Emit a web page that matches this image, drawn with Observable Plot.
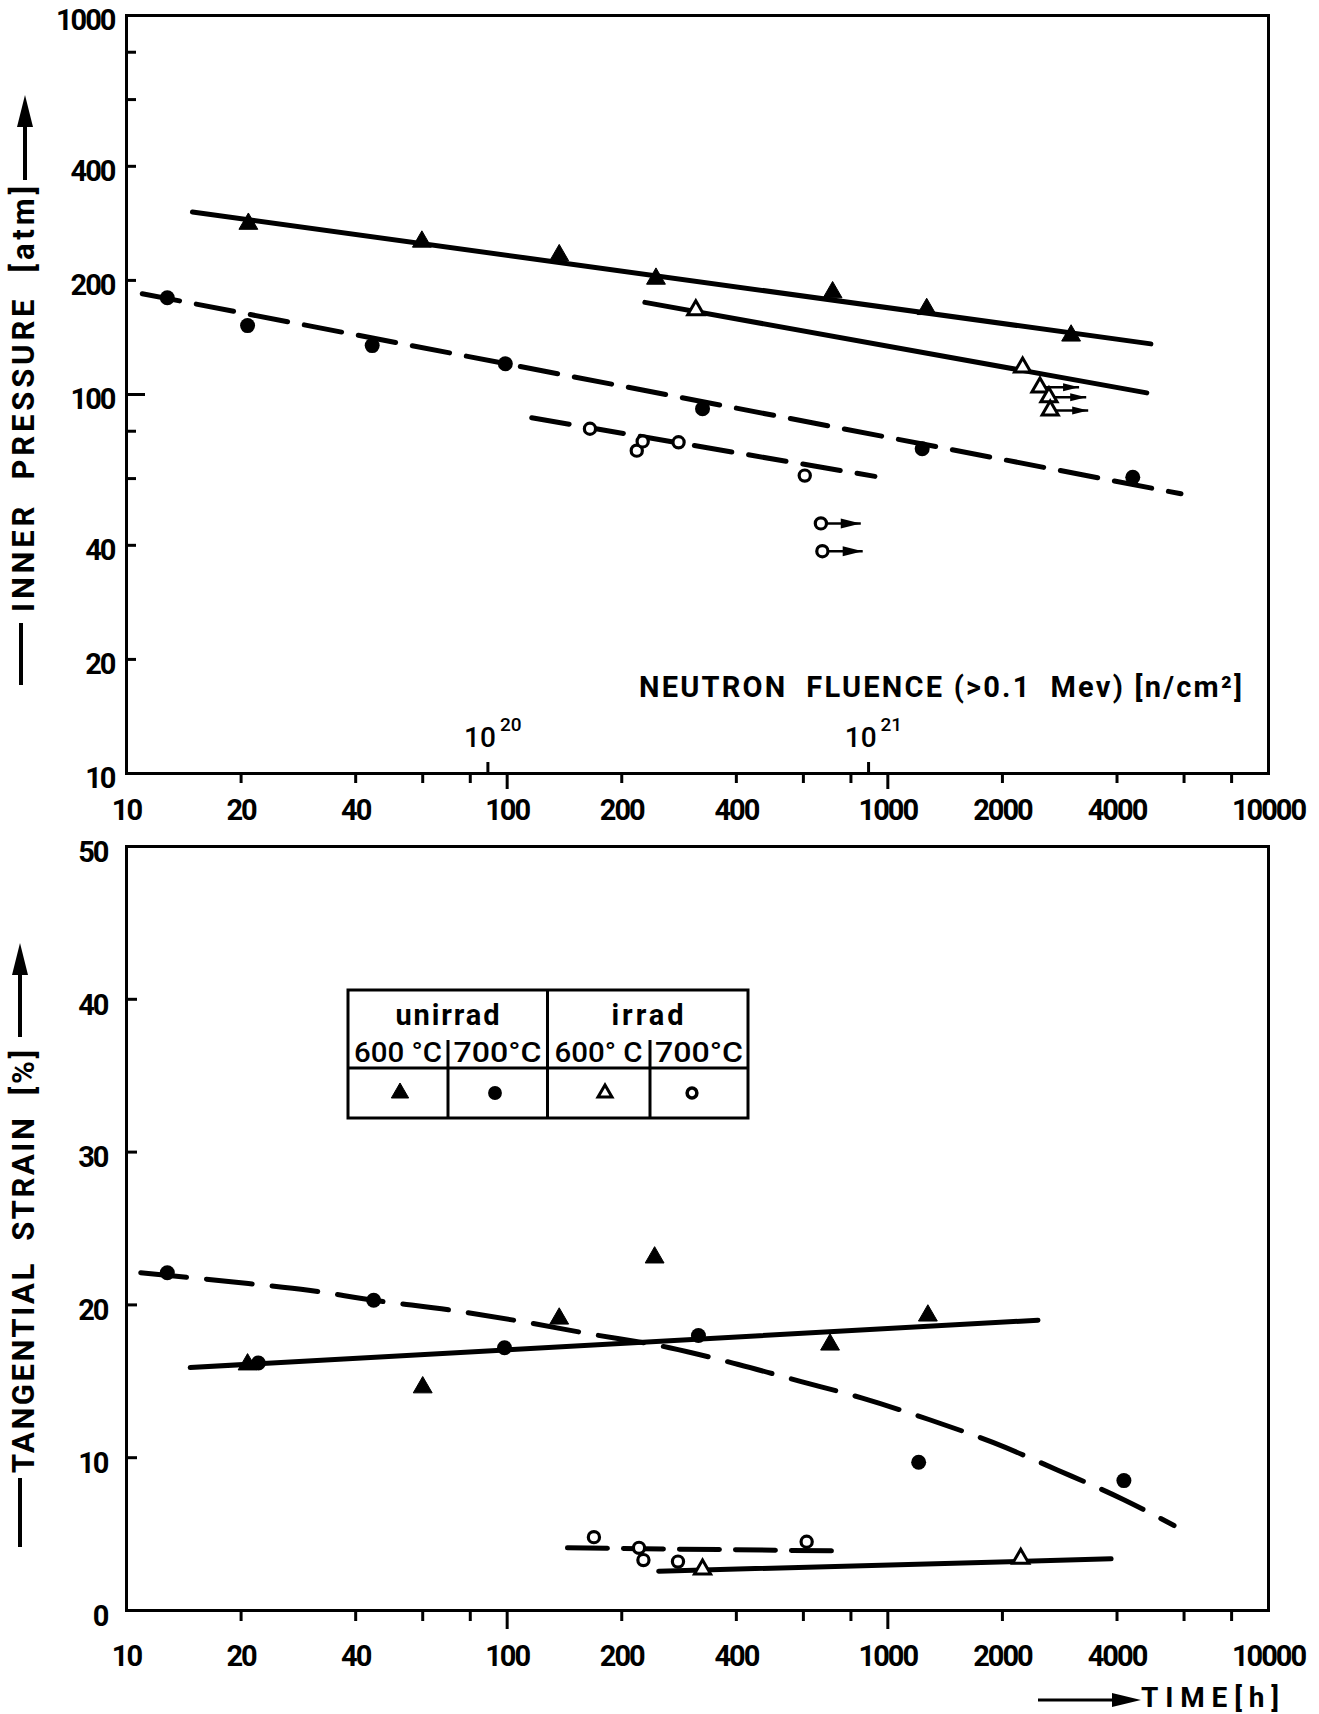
<!DOCTYPE html>
<html>
<head>
<meta charset="utf-8">
<script src="https://cdn.jsdelivr.net/npm/d3@7"></script>
<script src="https://cdn.jsdelivr.net/npm/@observablehq/plot@0.6"></script>
<style>
  html, body { margin: 0; padding: 0; background: #fff; }
  #page { position: relative; width: 1319px; height: 1714px; overflow: hidden; background: #fff; }
  #page > svg { position: absolute; left: 0; }
  #page svg text { white-space: pre; }
  #page g[aria-label$="tick label"] text { letter-spacing: -2px; }
</style>
</head>
<body>
<div id="page"></div>
<script>
// ---- Inner pressure at rupture [atm] vs. time to rupture [h] ----
const pU600Hours = [20.9, 59.7, 137, 246, 716, 1265, 3030];
const pU600Atm   = [282, 253, 233, 202, 186, 168, 143];
const pU700Hours = [12.8, 20.8, 44.2, 98.9, 326, 1231, 4400];
const pU700Atm   = [180, 152, 134.6, 120.5, 91.7, 71.9, 60.5];
const pI600Hours = [313, 2260, 2510, 2650, 2670];
const pI600Atm   = [167, 118, 104.5, 98.4, 90.8];
const pI600RunTo = [null, null, 3180, 3320, 3360];   // tests still running: arrow to
const pI700Hours = [165, 219, 227, 282, 605, 667, 673];
const pI700Atm   = [81.2, 71.1, 75.2, 74.8, 61.1, 45.7, 38.6];
const pI700RunTo = [null, null, null, null, null, 849, 859];

// trend lines (end points)
const fitPU600Hours = [14.9, 4910];  const fitPU600Atm = [303, 136];
const fitPI600Hours = [230, 4790];   const fitPI600Atm = [175, 101];
const fitPU700Hours = [11.0, 5890];  const fitPU700Atm = [184.5, 54.7];
const fitPI700Hours = [116, 925];    const fitPI700Atm = [86.8, 60.8];

// neutron fluence reached at a given irradiation time
const fluenceHours = [89, 890];
const fluenceExponents = ["20", "21"];

// ---- Tangential strain [%] vs. time [h] ----
const sU600Hours = [20.8, 60, 137, 244, 705, 1274];
const sU600Pct   = [16.1, 14.6, 19.1, 23.1, 17.4, 19.3];
const sU700Hours = [12.8, 22.2, 44.6, 98.4, 318, 1205, 4170];
const sU700Pct   = [22.1, 16.2, 20.3, 17.2, 18.0, 9.7, 8.5];
const sI600Hours = [326, 2234];
const sI600Pct   = [2.7, 3.4];
const sI700Hours = [169, 222, 228, 281, 612];
const sI700Pct   = [4.8, 4.1, 3.3, 3.2, 4.5];

const fitSU600Hours = [14.7, 2480];  const fitSU600Pct = [15.9, 19.0];
const fitSU700Hours = [10.9, 20.9, 30.1, 44.7, 71.5, 107, 165, 267, 405, 589, 857, 1282, 1888, 2787, 4168, 5648];
const fitSU700Pct   = [22.1, 21.4, 20.96, 20.3, 19.65, 18.95, 18.1, 17.2, 16.1, 15.0, 13.9, 12.5, 11.0, 9.2, 7.25, 5.56];
const fitSI600Hours = [250, 3860];   const fitSI600Pct = [2.57, 3.38];
const fitSI700Hours = [144, 726];    const fitSI700Pct = [4.1, 3.9];

// ---- axes ----
const timeTickLabels = [10, 20, 40, 100, 200, 400, 1000, 2000, 4000, 10000];
const timeMinorTicks = [20, 40, 60, 80, 200, 400, 600, 800, 2000, 4000, 6000, 8000];
const timeMajorTicks = [100, 1000];
const pressureTickLabels = [10, 20, 40, 100, 200, 400, 1000];
const pressureMinorTicks = [20, 40, 60, 80, 200, 400, 600, 800];
const pressureMajorTicks = [100];
const strainTickLabels = [0, 10, 20, 30, 40, 50];
const strainTicks = [10, 20, 30, 40];

// ---- legend ----
const legendGroups = ["unirrad", "irrad"];
const legendTemps = ["600 °C", "700°C", "600° C", "700°C"];

const FONT = "Roboto, 'DejaVu Sans', sans-serif";

const rows = (xs, ys, to) => xs.map((x, i) => ({x, y: ys[i], to: to ? to[i] : null}));

// filled arrow head pointing right, tip at the anchor point
const arrowHead = {
  draw(context, size) {
    const s = Math.sqrt(size / Math.PI);
    context.moveTo(0, 0);
    context.lineTo(-2 * s, -0.5 * s);
    context.lineTo(-2 * s, 0.5 * s);
    context.closePath();
  }
};

const symbols = {
  u600: {symbol: "triangle", fill: "black", stroke: "black", strokeWidth: 1, r: 7},
  u700: {symbol: "circle", fill: "black", stroke: "none", r: 7.5},
  i600: {symbol: "triangle", fill: "white", stroke: "black", strokeWidth: 3, r: 6},
  i700: {symbol: "circle", fill: "white", stroke: "black", strokeWidth: 3.2, r: 5.6}
};

const solid = {x: "x", y: "y", stroke: "black", strokeWidth: 5, strokeLinecap: "round"};
const dashed = (dash) => ({...solid, strokeDasharray: dash});

function timeAxis(longTick, shortTick, padding) {
  return [
    Plot.axisX(timeMinorTicks, {tickSize: shortTick, tickFormat: () => "", strokeWidth: 3, label: null}),
    Plot.axisX(timeMajorTicks, {tickSize: longTick, tickFormat: () => "", strokeWidth: 3, label: null}),
    Plot.axisX(timeTickLabels, {tickSize: 0, tickPadding: padding, tickFormat: d => String(d),
      fontSize: 29, fontWeight: 700, label: null})
  ];
}

const page = d3.select("#page");

// ---- upper chart: inner pressure ----
const runI600 = rows(pI600Hours, pI600Atm, pI600RunTo).filter(d => d.to);
const runI700 = rows(pI700Hours, pI700Atm, pI700RunTo).filter(d => d.to);
const fluence = fluenceHours.map((h, i) => ({hours: h, exponent: fluenceExponents[i]}));

const pressurePlot = Plot.plot({
  width: 1319, height: 830,
  marginLeft: 126, marginRight: 51, marginTop: 15, marginBottom: 57,
  style: {fontFamily: FONT, fontSize: "30px", fontWeight: 700, color: "black", background: "transparent", overflow: "visible"},
  x: {type: "log", domain: [10, 10000], label: null},
  y: {type: "log", domain: [10, 1000], label: null},
  marks: [
    Plot.frame({stroke: "black", strokeWidth: 3}),
    ...timeAxis(16, 10, 26),
    Plot.axisX(fluence.map(d => d.hours), {tickSize: -11, tickFormat: () => "", strokeWidth: 3, label: null}),
    Plot.text(fluence, {x: "hours", frameAnchor: "bottom", text: () => "10", textAnchor: "end", dx: 8, dy: -27, fontSize: 28, fontWeight: 500}),
    Plot.text(fluence, {x: "hours", frameAnchor: "bottom", text: "exponent", textAnchor: "start", dx: 12, dy: -43, fontSize: 19, fontWeight: 500}),
    Plot.axisY(pressureMinorTicks, {tickSize: -10, tickFormat: () => "", strokeWidth: 3, label: null}),
    Plot.axisY(pressureMajorTicks, {tickSize: -19, tickFormat: () => "", strokeWidth: 3, label: null}),
    Plot.axisY(pressureTickLabels, {tickSize: 0, tickPadding: 12, dy: 5, tickFormat: d => String(d),
      fontSize: 29, fontWeight: 700, label: null}),

    Plot.line(rows(fitPU600Hours, fitPU600Atm), solid),
    Plot.line(rows(fitPI600Hours, fitPI600Atm), solid),
    Plot.line(rows(fitPU700Hours, fitPU700Atm), dashed("38,17")),
    Plot.line(rows(fitPI700Hours, fitPI700Atm), dashed("38,17")),

    Plot.link(runI600, {x1: "x", x2: "to", y1: "y", y2: "y", stroke: "black", strokeWidth: 2.5}),
    Plot.dot(runI600, {x: "to", y: "y", symbol: arrowHead, r: 8, fill: "black"}),
    Plot.link(runI700, {x1: "x", x2: "to", y1: "y", y2: "y", stroke: "black", strokeWidth: 2.5}),
    Plot.dot(runI700, {x: "to", y: "y", symbol: arrowHead, r: 10, fill: "black"}),

    Plot.dot(rows(pU600Hours, pU600Atm), {x: "x", y: "y", ...symbols.u600}),
    Plot.dot(rows(pU700Hours, pU700Atm), {x: "x", y: "y", ...symbols.u700}),
    Plot.dot(rows(pI600Hours, pI600Atm), {x: "x", y: "y", ...symbols.i600}),
    Plot.dot(rows(pI700Hours, pI700Atm), {x: "x", y: "y", ...symbols.i700})
  ]
});
page.node().appendChild(pressurePlot);
d3.select(pressurePlot).style("top", "0px");

// ---- lower chart: tangential strain ----
const strainPlot = Plot.plot({
  width: 1319, height: 884,
  marginLeft: 126, marginRight: 51, marginTop: 16, marginBottom: 104,
  style: {fontFamily: FONT, fontSize: "30px", fontWeight: 700, color: "black", background: "transparent", overflow: "visible"},
  x: {type: "log", domain: [10, 10000], label: null},
  y: {domain: [0, 50], label: null},
  marks: [
    Plot.frame({stroke: "black", strokeWidth: 3}),
    ...timeAxis(19, 11, 35),
    Plot.axisY(strainTicks, {tickSize: -11, tickFormat: () => "", strokeWidth: 3, label: null}),
    Plot.axisY(strainTickLabels, {tickSize: 0, tickPadding: 19, dy: 6, tickFormat: d => String(d),
      fontSize: 29, fontWeight: 700, label: null}),

    Plot.line(rows(fitSU600Hours, fitSU600Pct), solid),
    Plot.line(rows(fitSU700Hours, fitSU700Pct), {...dashed("46,20"), curve: "monotone-x"}),
    Plot.line(rows(fitSI600Hours, fitSI600Pct), solid),
    Plot.line(rows(fitSI700Hours, fitSI700Pct), dashed("40,16")),

    Plot.dot(rows(sU600Hours, sU600Pct), {x: "x", y: "y", ...symbols.u600}),
    Plot.dot(rows(sU700Hours, sU700Pct), {x: "x", y: "y", ...symbols.u700}),
    Plot.dot(rows(sI600Hours, sI600Pct), {x: "x", y: "y", ...symbols.i600}),
    Plot.dot(rows(sI700Hours, sI700Pct), {x: "x", y: "y", ...symbols.i700})
  ]
});
page.node().appendChild(strainPlot);
d3.select(strainPlot).style("top", "830px");

// ---- titles, legend and labels drawn on top ----
const ov = page.append("svg")
  .attr("width", 1319).attr("height", 1714)
  .style("top", "0px")
  .style("font-family", FONT).style("font-weight", 500);

function verticalTitle({text, baseX, yStart, length, lineX, lineFrom, lineTo, arrowX, shaftFrom, tipY}) {
  ov.append("line").attr("x1", lineX).attr("x2", lineX).attr("y1", lineFrom).attr("y2", lineTo)
    .attr("stroke", "black").attr("stroke-width", 4);
  ov.append("text").attr("transform", `translate(${baseX},${yStart}) rotate(-90)`)
    .attr("font-size", 31).attr("font-weight", 700)
    .attr("textLength", length).attr("lengthAdjust", "spacing")
    .text(text);
  ov.append("line").attr("x1", arrowX).attr("x2", arrowX).attr("y1", shaftFrom).attr("y2", tipY + 28)
    .attr("stroke", "black").attr("stroke-width", 4);
  ov.append("path").attr("d", `M${arrowX},${tipY} L${arrowX - 8},${tipY + 32} L${arrowX + 8},${tipY + 32} Z`)
    .attr("fill", "black");
}

verticalTitle({text: "INNER  PRESSURE  [atm]", baseX: 33.5, yStart: 612, length: 426,
  lineX: 21, lineFrom: 623, lineTo: 685, arrowX: 25, shaftFrom: 180, tipY: 95});
verticalTitle({text: "TANGENTIAL  STRAIN  [%]", baseX: 33.5, yStart: 1473, length: 423,
  lineX: 20, lineFrom: 1478, lineTo: 1547, arrowX: 20, shaftFrom: 1037, tipY: 943});

ov.append("text").attr("x", 639).attr("y", 697).attr("font-size", 29).attr("font-weight", 700)
  .attr("textLength", 603).attr("lengthAdjust", "spacing")
  .text("NEUTRON  FLUENCE (>0.1  Mev) [n/cm²]");

// time axis title with arrow
ov.append("line").attr("x1", 1038).attr("x2", 1118).attr("y1", 1700).attr("y2", 1700)
  .attr("stroke", "black").attr("stroke-width", 3);
ov.append("path").attr("d", "M1141,1700 L1112,1693 L1112,1707 Z").attr("fill", "black");
ov.append("text").attr("x", 1141).attr("y", 1707).attr("font-size", 28).attr("font-weight", 700)
  .attr("textLength", 138).attr("lengthAdjust", "spacing").text("TIME[h]");

// legend table
const lg = ov.append("g").attr("stroke", "black").attr("stroke-width", 3);
lg.append("rect").attr("x", 348).attr("y", 990).attr("width", 400).attr("height", 128).attr("fill", "white");
lg.append("line").attr("x1", 547.5).attr("x2", 547.5).attr("y1", 990).attr("y2", 1118);
lg.append("line").attr("x1", 348).attr("x2", 748).attr("y1", 1068).attr("y2", 1068);
lg.append("line").attr("x1", 448).attr("x2", 448).attr("y1", 1040).attr("y2", 1118);
lg.append("line").attr("x1", 650).attr("x2", 650).attr("y1", 1040).attr("y2", 1118);

const groupCenters = [447.5, 647.5];
const groupWidths = [104, 72];
legendGroups.forEach((g, i) => {
  ov.append("text").attr("x", groupCenters[i] - groupWidths[i] / 2).attr("y", 1025)
    .attr("font-size", 29).attr("font-weight", 700)
    .attr("textLength", groupWidths[i]).attr("lengthAdjust", "spacing").text(g);
});
const tempCenters = [398, 497.5, 598.5, 699];
legendTemps.forEach((t, i) => {
  ov.append("text").attr("x", tempCenters[i] - 44).attr("y", 1062)
    .attr("font-size", 28).attr("font-weight", 500)
    .attr("textLength", 88).attr("lengthAdjust", "spacingAndGlyphs").text(t);
});
const legendSymbols = [
  {type: d3.symbolTriangle, size: 130, fill: "black", stroke: "black", sw: 1, x: 400},
  {type: d3.symbolCircle, size: 150, fill: "black", stroke: "none", sw: 0, x: 495},
  {type: d3.symbolTriangle, size: 85, fill: "white", stroke: "black", sw: 3, x: 605},
  {type: d3.symbolCircle, size: 75, fill: "white", stroke: "black", sw: 3.5, x: 692}
];
legendSymbols.forEach(s => {
  ov.append("path").attr("d", d3.symbol(s.type, s.size)())
    .attr("transform", `translate(${s.x},1093)`)
    .attr("fill", s.fill).attr("stroke", s.stroke).attr("stroke-width", s.sw);
});
</script>
</body>
</html>
